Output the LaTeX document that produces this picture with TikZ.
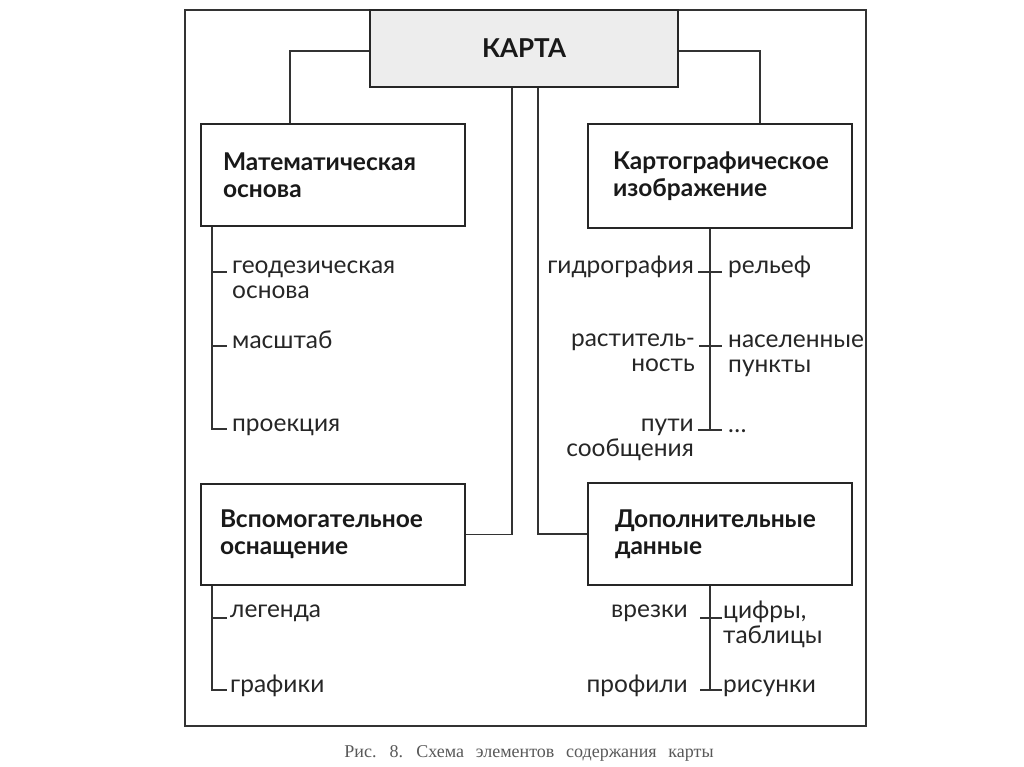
\documentclass[tikz,border=0pt]{standalone}
\usepackage{fontspec}
\setmainfont{Lato}
\newfontfamily\capfont[WordSpace=2.6]{Liberation Serif}
\begin{document}
\begin{tikzpicture}[x=1pt,y=-1pt]
\useasboundingbox (0,0) rectangle (1024,767);
\fill[white] (0,0) rectangle (1024,767);
\tikzset{
  ln/.style={line width=1.2pt, draw=black!80},
  boxst/.style={draw=black!85, line width=1.5pt, minimum width=264pt, inner sep=0pt, align=left,
    font=\fontsize{24.5}{27}\selectfont\bfseries, text=black!90},
  item/.style={inner sep=0pt, font=\fontsize{24.5}{24.5}\selectfont, text=black!85},
}
% outer frame
\draw[ln, line width=1.4pt] (185,10) rectangle (866,726);
% top box
\node[draw=black!85, line width=1.5pt, fill=gray!14, minimum width=308pt, minimum height=77pt,
  inner sep=0pt, font=\fontsize{26}{30}\selectfont\bfseries, text=black!90] (karta) at (524,48.5) {КАРТА};
% main boxes
\node[boxst, minimum height=102pt, text width=220pt] (mat) at (333,175) {Математическая\\основа};
\node[boxst, minimum height=104pt, text width=214pt] (kart) at (720,176) {Картографическое\\изображение};
\node[boxst, minimum height=101pt, text width=226pt] (vsp) at (333,534.5) {Вспомогательное\\оснащение};
\node[boxst, minimum height=102pt, text width=210pt] (dop) at (720,534) {Дополнительные\\данные};
% connectors from КАРТА
\draw[ln] ([yshift=-2.5pt]karta.west) -| ([xshift=-43pt]mat.north);
\draw[ln] ([yshift=-2.5pt]karta.east) -| ([xshift=40pt]kart.north);
\draw[ln] ([xshift=-12pt]karta.south) |- (vsp.east);
\draw[ln] ([xshift=14pt]karta.south) |- (dop.west);

% --- Математическая основа items (base = last line)
\node[item, anchor=base west, align=left] (geo) at (232,298) {геодезическая\\основа};
\node[item, anchor=base west] (mas) at (232,348) {масштаб};
\node[item, anchor=base west] (pro) at (232,431) {проекция};
\coordinate (m1) at (212,272);
\coordinate (m2) at (212,346);
\coordinate (m3) at (212,429);
\draw[ln] ([xshift=-121pt]mat.south) -- (m3) -- ([xshift=-5pt]pro.west |- m3);
\draw[ln] (m1) -- ([xshift=-5pt]geo.west |- m1);
\draw[ln] (m2) -- ([xshift=-5pt]mas.west |- m2);

% --- Картографическое изображение items
\node[item, anchor=base east, align=right] (gid) at (694,273) {гидрография};
\node[item, anchor=base east, align=right] (ras) at (695,371) {раститель-\\ность};
\node[item, anchor=base east, align=right] (put) at (694,456) {пути\\сообщения};
\node[item, anchor=base west, align=left] (rel) at (728,273) {рельеф};
\node[item, anchor=base west, align=left] (nas) at (728,372) {населенные\\пункты};
\node[item, anchor=base west, align=left] (dots) at (728,432) {\dots};
\coordinate (k1) at (710,272);
\coordinate (k2) at (710,346);
\coordinate (k3) at (710,430);
\draw[ln] ([xshift=-10pt]kart.south) -- (k3);
\draw[ln] ([xshift=4pt]gid.east |- k1) -- ([xshift=-6pt]rel.west |- k1);
\draw[ln] ([xshift=4pt]ras.east |- k2) -- ([xshift=-6pt]nas.west |- k2);
\draw[ln] ([xshift=4pt]put.east |- k3) -- ([xshift=-6pt]dots.west |- k3);

% --- Вспомогательное оснащение items
\node[item, anchor=base west] (leg) at (230,617) {легенда};
\node[item, anchor=base west] (gra) at (230,692) {графики};
\coordinate (v1) at (212,618);
\coordinate (v2) at (212,690);
\draw[ln] ([xshift=-121pt]vsp.south) -- (v2) -- ([xshift=-3pt]gra.west |- v2);
\draw[ln] (v1) -- ([xshift=-3pt]leg.west |- v1);

% --- Дополнительные данные items
\node[item, anchor=base east] (vre) at (688,617) {врезки};
\node[item, anchor=base east] (prf) at (688,692) {профили};
\node[item, anchor=base west, align=left] (cif) at (723,643) {цифры,\\таблицы};
\node[item, anchor=base west] (ris) at (723,692) {рисунки};
\coordinate (d1) at (710,618);
\coordinate (d2) at (710,690);
\draw[ln] ([xshift=-10pt]dop.south) -- (d2);
\draw[ln] ([xshift=12pt]vre.east |- d1) -- ([xshift=-1pt]cif.west |- d1);
\draw[ln] ([xshift=12pt]prf.east |- d2) -- ([xshift=-1pt]ris.west |- d2);

% caption
\node[inner sep=0pt, anchor=base, font=\capfont\fontsize{18}{20}\selectfont, text=black!65] (cap) at (529,757) {Рис. 8. Схема элементов содержания карты};
\end{tikzpicture}
\end{document}
